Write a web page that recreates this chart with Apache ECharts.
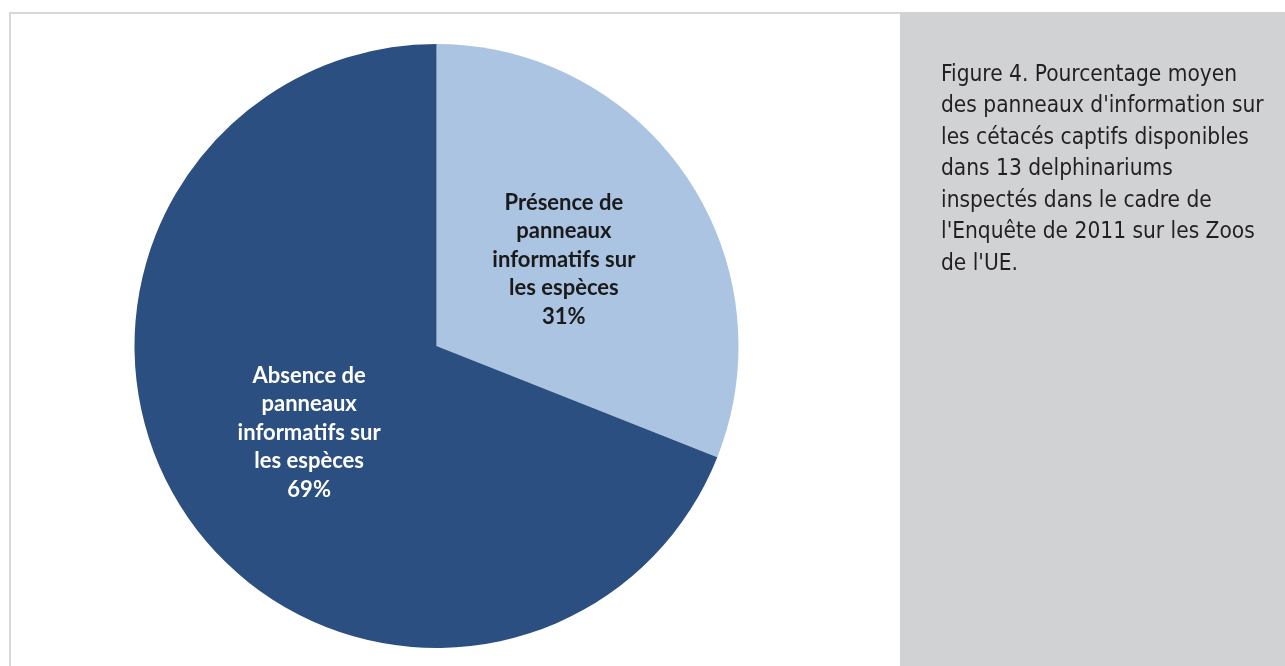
<!DOCTYPE html>
<html>
<head>
<meta charset="utf-8">
<style>
html,body{margin:0;padding:0;background:#fff;}
#chart{width:1285px;height:666px;}
</style>
<script src="https://cdn.jsdelivr.net/npm/echarts@6/dist/echarts.min.js"></script>
</head>
<body>
<div id="chart"></div>
<script>
const categories = [
  "Présence de\npanneaux\ninformatifs sur\nles espèces",
  "Absence de\npanneaux\ninformatifs sur\nles espèces"
];
const values = [31, 69];
const sliceColors = ["#aac4e2", "#2c4f81"];
const labelColors = ["#1a1a1a", "#ffffff"];
const captionLines = [
  "Figure 4. Pourcentage moyen",
  "des panneaux d'information sur",
  "les cétacés captifs disponibles",
  "dans 13 delphinariums",
  "inspectés dans le cadre de",
  "l'Enquête de 2011 sur les Zoos",
  "de l'UE."
];

const chart = echarts.init(document.getElementById('chart'), null, {renderer: 'canvas'});
chart.setOption({
  backgroundColor: '#ffffff',
  animation: false,
  graphic: [
    {type: 'rect', shape: {x: 9, y: 12, width: 892, height: 2}, style: {fill: '#d8d8d8'}, silent: true},
    {type: 'rect', shape: {x: 9, y: 12, width: 2, height: 660}, style: {fill: '#d8d8d8'}, silent: true},
    {type: 'rect', shape: {x: 900, y: 12, width: 385, height: 660}, style: {fill: '#d1d2d4'}, silent: true},
    {type: 'text', left: 941, top: 59, silent: true,
     style: {text: captionLines.join('\n'), font: '22.5px "DejaVu Sans Condensed", "Liberation Sans Narrow", sans-serif',
             fill: '#231f20', lineHeight: 31.5}}
  ],
  series: [{
    type: 'pie',
    center: [436.5, 346],
    radius: [0, 302],
    startAngle: 90,
    clockwise: true,
    avoidLabelOverlap: false,
    emphasis: {disabled: true},
    label: {
      show: true,
      position: 'inside',
      fontFamily: 'Lato, "Open Sans", sans-serif',
      fontWeight: 'bold',
      fontSize: 22,
      lineHeight: 28.5,
      align: 'center',
      formatter: p => p.name + '\n' + p.value + '%'
    },
    labelLine: {show: false},
    data: categories.map((c, i) => ({
      name: c, value: values[i],
      itemStyle: {color: sliceColors[i]},
      label: {color: labelColors[i]}
    }))
  }]
});
</script>
</body>
</html>
